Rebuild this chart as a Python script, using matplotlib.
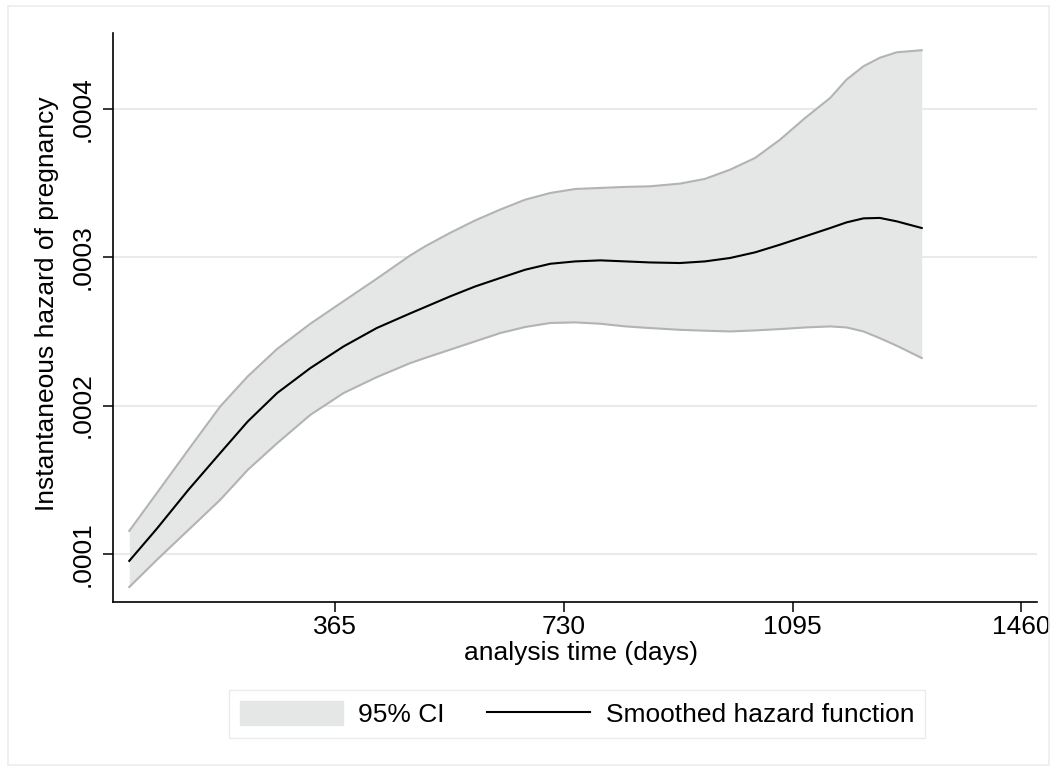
import matplotlib
matplotlib.use("Agg")
import matplotlib.pyplot as plt
from matplotlib.patches import Patch, Rectangle
from matplotlib.lines import Line2D
from matplotlib.ticker import FuncFormatter

plt.rcParams["font.family"] = ["Liberation Sans", "DejaVu Sans"]

# values (hazard in units of 1e-4)
days = [36, 80, 130, 181, 225, 272, 325, 378, 431, 484, 508, 548, 588, 628,
        668, 708, 748, 788, 828, 867, 915, 955, 995, 1035, 1075, 1115, 1155,
        1181, 1208, 1234, 1261, 1301]
hazard = [0.953, 1.17, 1.43, 1.679, 1.892, 2.084, 2.252, 2.398, 2.522, 2.62,
          2.663, 2.735, 2.802, 2.859, 2.915, 2.955, 2.971, 2.978, 2.971, 2.964,
          2.960, 2.971, 2.994, 3.032, 3.084, 3.140, 3.196, 3.234, 3.261, 3.264,
          3.241, 3.196]
ci_upper = [1.155, 1.41, 1.70, 1.993, 2.196, 2.381, 2.551, 2.703, 2.854, 3.01,
            3.072, 3.163, 3.247, 3.320, 3.387, 3.432, 3.459, 3.466, 3.473, 3.477,
            3.495, 3.527, 3.589, 3.668, 3.792, 3.938, 4.073, 4.196, 4.286, 4.343,
            4.380, 4.394]
ci_lower = [0.777, 0.96, 1.16, 1.364, 1.566, 1.746, 1.937, 2.084, 2.191, 2.285,
            2.320, 2.376, 2.432, 2.488, 2.529, 2.556, 2.560, 2.551, 2.533, 2.522,
            2.510, 2.504, 2.499, 2.506, 2.515, 2.526, 2.533, 2.526, 2.499, 2.454,
            2.403, 2.320]
scale = 1e-4

xticks = [365, 730, 1095, 1460]
yticks = [0.0001, 0.0002, 0.0003, 0.0004]

fill_color = "#e5e6e6"
ci_line_color = "#b3b3b3"
grid_color = "#eaeaea"
fs = 19

fig = plt.figure(figsize=(10.56, 7.71), dpi=100)
ax = fig.add_axes([113 / 1056, 1 - 602 / 771, 924 / 1056, 569 / 771])

# outer light frame around the whole graph
fig.patches.append(Rectangle((8 / 1056, 1 - 765 / 771), 1041 / 1056, 759 / 771,
                             transform=fig.transFigure, fill=False,
                             edgecolor="#ececec", linewidth=1.2))

up = [v * scale for v in ci_upper]
lo = [v * scale for v in ci_lower]
mid = [v * scale for v in hazard]

ax.fill_between(days, lo, up, color=fill_color, linewidth=0, zorder=2)
ax.plot(days, up, color=ci_line_color, linewidth=1.5, zorder=3)
ax.plot(days, lo, color=ci_line_color, linewidth=1.5, zorder=3)
ax.plot(days, mid, color="black", linewidth=1.5, zorder=4)

ax.set_xlim(10, 1485)
ax.set_ylim(0.0000676, 0.000451)
ax.set_xticks(xticks)
ax.set_yticks(yticks)
ax.yaxis.set_major_formatter(FuncFormatter(lambda v, p: f"{v:.4f}".lstrip("0")))
ax.grid(axis="y", color=grid_color, linewidth=1.5, zorder=0)
ax.set_axisbelow(True)

for s in ["top", "right"]:
    ax.spines[s].set_visible(False)
for s in ["left", "bottom"]:
    ax.spines[s].set_linewidth(1.2)

ax.tick_params(axis="both", length=7, width=1.1, labelsize=fs, direction="out")
ax.tick_params(axis="x", pad=2)
ax.tick_params(axis="y", pad=6)
for lab in ax.get_yticklabels():
    lab.set_rotation(90)
    lab.set_va("center")

ax.set_xlabel("analysis time (days)", fontsize=fs)
ax.xaxis.set_label_coords(0.506, -0.068)
ax.set_ylabel("Instantaneous hazard of pregnancy", fontsize=fs)
ax.yaxis.set_label_coords(-0.058, 0.524)

handles = [Patch(facecolor=fill_color, edgecolor=fill_color),
           Line2D([], [], color="black", linewidth=1.5)]
fig.legend(handles, ["95% CI", "Smoothed hazard function"], ncol=2,
           loc="center", bbox_to_anchor=(577 / 1056, 1 - 714 / 771),
           fontsize=fs, frameon=True, fancybox=False, edgecolor="#e6e6e6",
           handlelength=3.9, handleheight=1.05, handletextpad=0.6,
           columnspacing=1.6, borderpad=0.4)

fig.savefig("out.png", dpi=100)
